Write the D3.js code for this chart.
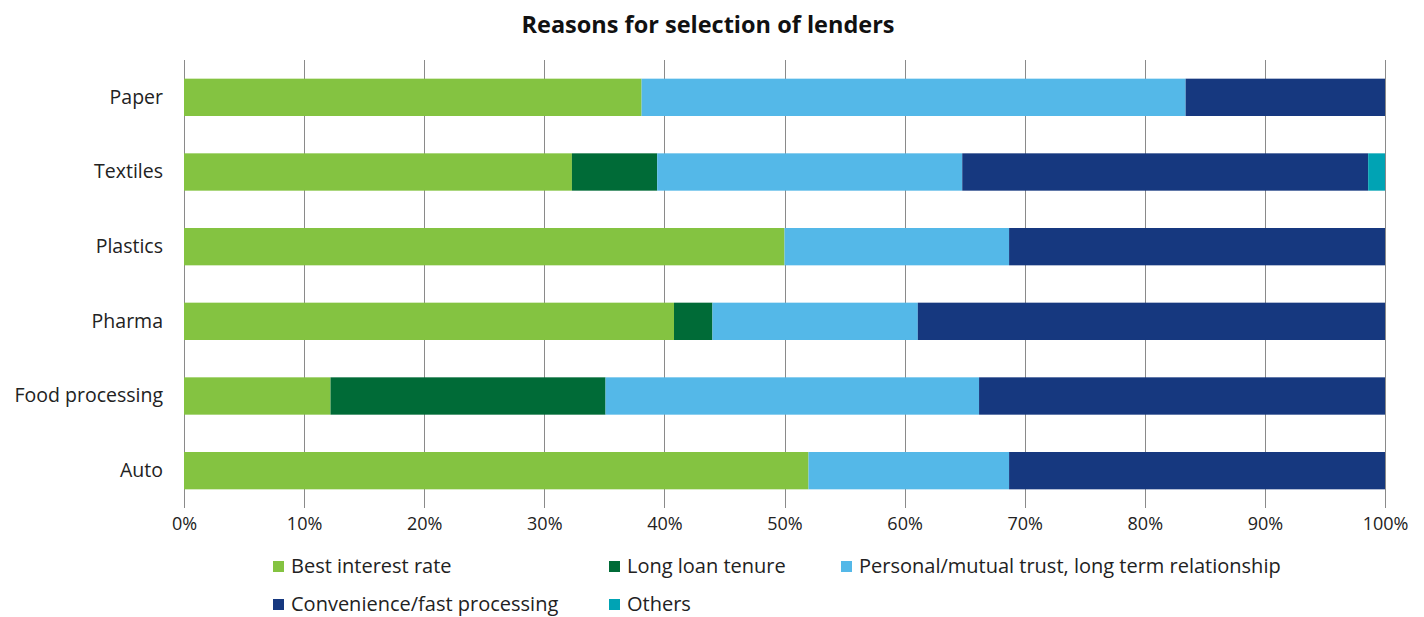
<!DOCTYPE html>
<html lang="en">
<head>
<meta charset="UTF-8">
<title>Reasons for selection of lenders</title>
<style>
    body { margin: 0; background: #fff; }
    svg, svg text { font-family: "Open Sans", "Noto Sans", sans-serif; }
    .tick text { fill: #222; }
</style>
<script src="https://cdn.jsdelivr.net/npm/d3@7"></script>
</head>
<body>
<svg id="main" width="1424" height="617"></svg>
<script>

    // data (percent of respondents)
    var sectors = ["Paper", "Textiles", "Plastics", "Pharma", "Food processing", "Auto"];
    var seriesNames = ["Best interest rate", "Long loan tenure",
        "Personal/mutual trust, long term relationship", "Convenience/fast processing", "Others"];
    var bestRate    = [38.1, 32.3, 50.0, 40.8, 12.2, 52.0];
    var longTenure  = [0,    7.1,  0,    3.2,  22.9, 0];
    var trust       = [45.3, 25.4, 18.7, 17.1, 31.1, 16.7];
    var convenience = [16.6, 33.8, 31.3, 38.9, 33.8, 31.3];
    var others      = [0,    1.4,  0,    0,    0,    0];
    var tickValues  = [0, 10, 20, 30, 40, 50, 60, 70, 80, 90, 100];

    var colours = ["#84c341", "#006b37", "#54b8e8", "#16387f", "#00a3b4"];

    var svg = d3.select("#main"),
        margin = {top: 60, right: 39, bottom: 109, left: 184},
        width = 1424 - margin.left - margin.right,
        height = 617 - margin.top - margin.bottom,
        g = svg.append("g").attr("transform", "translate(" + margin.left + "," + margin.top + ")");

    var rows = sectors.map(function(s, i) {
        return {sector: s, 0: bestRate[i], 1: longTenure[i], 2: trust[i], 3: convenience[i], 4: others[i]};
    });

    var stack = d3.stack().keys([0, 1, 2, 3, 4]);
    var series = stack(rows);

    var x = d3.scaleLinear().domain([0, 100]).range([0, width]);
    var y = d3.scaleBand().domain(sectors).range([0, height])
        .paddingInner(0.5)
        .paddingOuter(0.25);

    // title
    svg.append("text")
        .attr("x", 708)
        .attr("y", 33)
        .attr("text-anchor", "middle")
        .style("font-size", "23.5px")
        .style("font-weight", "bold")
        .style("fill", "#111")
        .text("Reasons for selection of lenders");

    // grid lines
    g.selectAll(".grid")
        .data(tickValues)
        .enter().append("line")
        .attr("class", "grid")
        .attr("x1", function(d) { return Math.round(x(d)) + 0.5; })
        .attr("x2", function(d) { return Math.round(x(d)) + 0.5; })
        .attr("y1", 0)
        .attr("y2", height)
        .attr("stroke", "#8a8a8a")
        .attr("stroke-width", 1);

    // bars
    g.selectAll(".serie")
        .data(series)
        .enter().append("g")
        .attr("class", "serie")
        .attr("fill", function(d) { return colours[d.key]; })
        .selectAll("rect")
        .data(function(d) { return d; })
        .enter().append("rect")
        .attr("x", function(d) { return x(d[0]); })
        .attr("y", function(d) { return y(d.data.sector); })
        .attr("width", function(d) { return x(d[1]) - x(d[0]); })
        .attr("height", y.bandwidth());

    // x axis labels
    var xAxis = g.append("g")
        .attr("transform", "translate(0," + height + ")")
        .call(d3.axisBottom(x).tickValues(tickValues).tickSize(0).tickPadding(9)
            .tickFormat(function(d) { return d + "%"; }));
    xAxis.attr("font-family", null);
    xAxis.select(".domain").remove();
    xAxis.selectAll("text").style("font-size", "18px").attr("dy", "0.71em");

    // y axis labels
    var yAxis = g.append("g")
        .call(d3.axisLeft(y).tickSize(0).tickPadding(21));
    yAxis.attr("font-family", null);
    yAxis.select(".domain").remove();
    yAxis.selectAll("text").style("font-size", "19.5px");

    // legend
    var legendPos = [[273, 566], [609, 566], [841, 566], [273, 604], [609, 604]];
    var legend = svg.selectAll(".legend")
        .data(seriesNames)
        .enter().append("g")
        .attr("class", "legend")
        .attr("transform", function(d, i) { return "translate(" + legendPos[i][0] + "," + legendPos[i][1] + ")"; });

    legend.append("rect")
        .attr("x", 0)
        .attr("y", -5)
        .attr("width", 11)
        .attr("height", 11)
        .attr("fill", function(d, i) { return colours[i]; });

    legend.append("text")
        .attr("x", 18)
        .attr("y", 0)
        .attr("dy", "0.35em")
        .style("font-size", "20px")
        .style("fill", "#222")
        .text(function(d) { return d; });

</script>
</body>
</html>
